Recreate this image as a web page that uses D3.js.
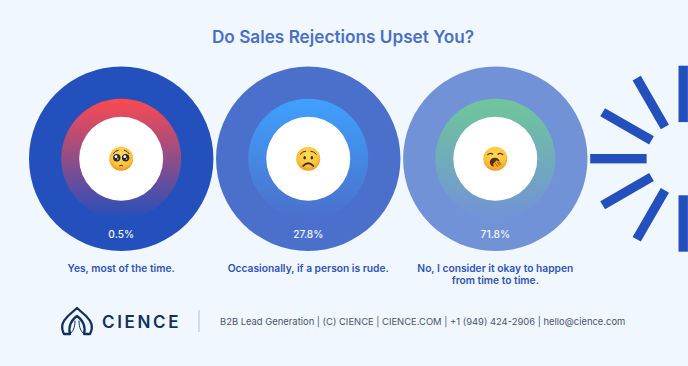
<!DOCTYPE html>
<html><head><meta charset="utf-8">
<script src="https://cdn.jsdelivr.net/npm/d3@7"></script>
<style>html,body{margin:0;padding:0;background:#f0f7fe}svg{display:block}text{font-family:Inter,"Noto Sans",sans-serif}</style>
</head><body><div id="c"></div>
<script>
const title = "Do Sales Rejections Upset You?";
const categories = [["Yes, most of the time."],["Occasionally, if a person is rude."],["No, I consider it okay to happen","from time to time."]];
const values = [0.5, 27.8, 71.8];
const outerColors = ["#2450bd","#4b70cb","#7292d8"];
const ringTop = ["#fd4a50","#3fa1fd","#6fc79a"];
const spokeAngles = [90,60,30,0,-30,-60,-90];
const footer = "B2B Lead Generation | (C) CIENCE | CIENCE.COM | +1 (949) 424-2906 | hello@cience.com";

const W=688,H=366,cy=158.7;
const svg=d3.select("#c").append("svg").attr("width",W).attr("height",H);
svg.append("rect").attr("width",W).attr("height",H).attr("fill","#f0f7fe");
const x=d3.scalePoint().domain(d3.range(values.length)).range([121.2,495.3]);
const defs=svg.append("defs");
ringTop.forEach((c,i)=>{
  const g=defs.append("linearGradient").attr("id","g"+i).attr("x1",0).attr("x2",0).attr("y1",0).attr("y2",1);
  g.append("stop").attr("offset","0").attr("stop-color",c);
  g.append("stop").attr("offset","1").attr("stop-color",outerColors[i]);
});
svg.append("text").attr("x",343).attr("y",43.3).attr("text-anchor","middle").attr("font-size",17.2).attr("font-weight",600).attr("fill","#4a70c6").text(title);

const groups=svg.selectAll("g.item").data(values).join("g").attr("class","item").attr("transform",(d,i)=>`translate(${x(i)},${cy})`);
groups.append("circle").attr("r",92.2).attr("fill",(d,i)=>outerColors[i]);
groups.append("circle").attr("r",60).attr("fill",(d,i)=>`url(#g${i})`);
groups.append("circle").attr("r",42).attr("fill","#fff");
groups.append("text").attr("y",79.2).attr("text-anchor","middle").attr("font-size",10.2).attr("font-weight",500).attr("fill","#f0f5fd").text(d=>d+"%");
groups.each(function(d,i){
  const t=d3.select(this).append("text").attr("text-anchor","middle").attr("font-size",10.25).attr("font-weight",600).attr("fill","#2f54b6");
  categories[i].forEach((s,j)=>t.append("tspan").attr("x",0).attr("y",113.5+j*11.8).text(s));
});

// emoji faces
const fg=defs.append("radialGradient").attr("id","face").attr("cx",.5).attr("cy",.35).attr("r",.7);
fg.append("stop").attr("offset",0).attr("stop-color","#ffdc5e");
fg.append("stop").attr("offset",.65).attr("stop-color","#fcc23a");
fg.append("stop").attr("offset",1).attr("stop-color","#ea8a1c");
groups.append("circle").attr("r",12).attr("fill","url(#face)");
const dark="#4a2c12";
function line(g,d,w){g.append("path").attr("d",d).attr("fill","none").attr("stroke",dark).attr("stroke-width",w).attr("stroke-linecap","round");}
const e0=d3.select(groups.nodes()[0]);
[-4.4,4.4].forEach(dx=>{
  e0.append("circle").attr("cx",dx).attr("cy",-1).attr("r",3.7).attr("fill","#2a2a34");
  e0.append("circle").attr("cx",dx-.8).attr("cy",-2).attr("r",1.4).attr("fill","#fff");
  e0.append("circle").attr("cx",dx+1).attr("cy",.3).attr("r",.8).attr("fill","#dfe6f2");
});
line(e0,"M-8,-5 Q-6,-8 -3,-8.5",1);line(e0,"M8,-5 Q6,-8 3,-8.5",1);line(e0,"M-1.6,7 Q0,6 1.6,7",1);
const e1=d3.select(groups.nodes()[1]);
[-3.6,3.6].forEach(dx=>e1.append("ellipse").attr("cx",dx).attr("cy",-1).attr("rx",1.3).attr("ry",1.7).attr("fill",dark));
line(e1,"M-8,-4.5 Q-6,-7.5 -2.5,-7.5",1);line(e1,"M8,-4.5 Q6,-7.5 2.5,-7.5",1);line(e1,"M-5,7.2 Q0,2 5,7.2",1.9);
const e2=d3.select(groups.nodes()[2]);
line(e2,"M-7.5,-4 Q-5,-6.5 -2.5,-4.5",1.2);line(e2,"M7.5,-4 Q5,-6.5 2.5,-4.5",1.2);
e2.append("ellipse").attr("cx",-.5).attr("cy",3.6).attr("rx",5).attr("ry",4.6).attr("fill","#5a2c14");
e2.append("path").attr("d","M-2,5 L1.5,1.5 L3,2.5 L4.5,2 L5.5,3.5 L7,4 Q7.5,8 5,10 Q2,11.5 -.5,10 Q-2,8 -2,5Z").attr("fill","#f6b02e");
[[0,4.5,2.5,8],[2,3,4.2,7],[3.8,3,5.6,6]].forEach(p=>e2.append("line").attr("x1",p[0]).attr("y1",p[1]).attr("x2",p[2]).attr("y2",p[3]).attr("stroke","#7a4214").attr("stroke-width",.8));

// burst
const bx=683.2;
svg.append("g").attr("transform",`translate(${bx},${cy})`).selectAll("rect").data(spokeAngles).join("rect")
 .attr("x",-93).attr("y",-4.7).attr("width",56.4).attr("height",9.4).attr("fill","#2450bd")
 .attr("transform",d=>`rotate(${d})`);

// footer logo
const logo=svg.append("g").attr("fill","none").attr("stroke","#13305f").attr("stroke-linejoin","round").attr("stroke-linecap","round");
logo.append("path").attr("stroke-width",2.3).attr("d","M64,334 C60,326 63,321 68,316 L77,308 L86,316 C91,321 94,326 90,334 L84,334 C86,327 83,320 77,316 C71,320 68,327 70,334 Z");
logo.append("path").attr("stroke-width",1).attr("d","M70,334 C73,331 75,328 75,321 M84,334 C81,331 79,328 79,321");
svg.append("text").attr("x",102).attr("y",327.5).attr("font-size",17).attr("font-weight",600).attr("letter-spacing",2.65).attr("fill","#13305f").text("CIENCE");
svg.append("line").attr("x1",199).attr("x2",199).attr("y1",310).attr("y2",332).attr("stroke","#b9c2cf").attr("stroke-width",1);
svg.append("text").attr("x",220).attr("y",325.4).attr("font-size",9.42).attr("fill","#4b5670").text(footer);
</script></body></html>
